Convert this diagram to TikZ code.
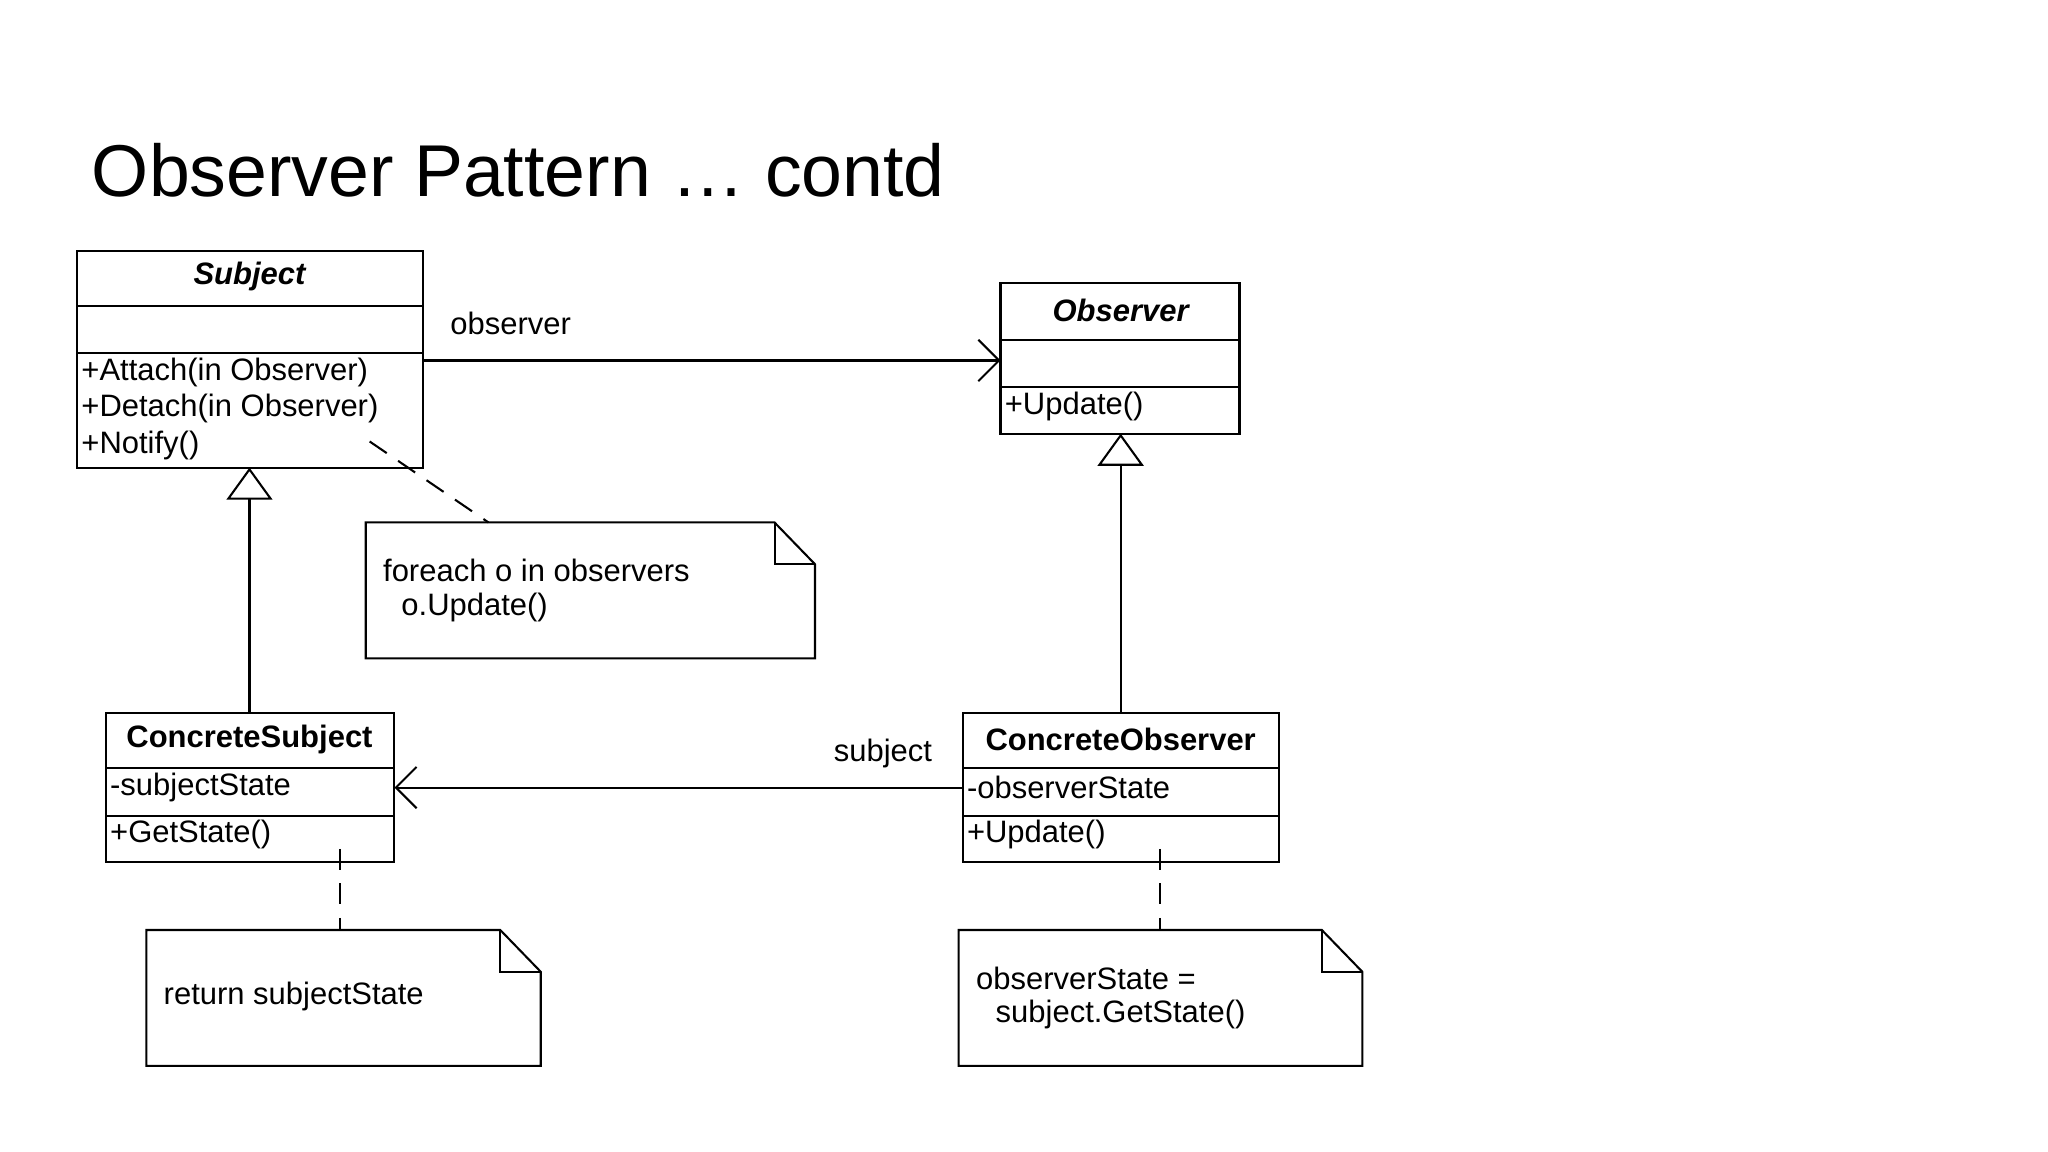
\documentclass[tikz,border=0pt]{standalone}
\usepackage{fontspec}
\setmainfont{Liberation Sans}
\usetikzlibrary{arrows.meta}
\begin{document}
\begin{tikzpicture}[x=0.02cm,y=-0.02cm,
  box/.style={draw,line width=0.9pt},
  txt/.style={font=\fontsize{13.5}{16}\selectfont,inner sep=0pt,anchor=west},
  assoc/.style={draw,line width=0.9pt,-{Straight Barb[length=9pt,width=18pt]}},
  gen/.style={draw,line width=0.9pt,-{Triangle[open,length=14pt,width=20pt]}},
  dashedln/.style={draw,line width=0.9pt,dash pattern=on 9pt off 6pt}]
\useasboundingbox (0,0) rectangle (1568,882);
\node[anchor=west,inner sep=0pt,font=\fontsize{32}{38}\selectfont] (title) at (70,130) {Observer Pattern … contd};
% Subject
\draw[box] (59,192) rectangle (324,358);
\draw[box] (59,234) -- (324,234) (59,270) -- (324,270);
\node[font=\fontsize{13.5}{16}\selectfont\bfseries\itshape] (subj) at (191,212) {Subject};
\node[txt] (a1) at (62,285) {+Attach(in Observer)};
\node[txt] (a2) at (62,313) {+Detach(in Observer)};
\node[txt] (a3) at (62,341) {+Notify()};
% Observer
\draw[box] (766,217) rectangle (949,332);
\draw[box] (766,260) -- (949,260) (766,296) -- (949,296);
\node[font=\fontsize{13.5}{16}\selectfont\bfseries\itshape] (obs) at (858,238) {Observer};
\node[txt] (o1) at (769,311) {+Update()};
% ConcreteSubject
\draw[box] (81,546) rectangle (302,660);
\draw[box] (81,588) -- (302,588) (81,625) -- (302,625);
\node[font=\fontsize{13.5}{16}\selectfont\bfseries] (cs) at (191,566) {ConcreteSubject};
\node[txt] (cs1) at (84,603) {-subjectState};
\node[txt] (cs2) at (84,639) {+GetState()};
% ConcreteObserver
\draw[box] (737,546) rectangle (979,660);
\draw[box] (737,588) -- (979,588) (737,625) -- (979,625);
\node[font=\fontsize{13.5}{16}\selectfont\bfseries] (co) at (858,566) {ConcreteObserver};
\node[txt] (co1) at (740,603) {-observerState};
\node[txt] (co2) at (740,639) {+Update()};
% notes
\draw[box] (280,400) -- (593,400) -- (624,432) -- (624,504) -- (280,504) -- cycle;
\draw[box] (593,400) -- (593,432) -- (624,432);
\node[txt] (n1) at (293,437) {foreach o in observers};
\node[txt] (n1b) at (307,465) {o.Update()};
\draw[box] (112,712) -- (383,712) -- (414,744) -- (414,816) -- (112,816) -- cycle;
\draw[box] (383,712) -- (383,744) -- (414,744);
\node[txt] (n2) at (125,763) {return subjectState};
\draw[box] (734,712) -- (1012,712) -- (1043,744) -- (1043,816) -- (734,816) -- cycle;
\draw[box] (1012,712) -- (1012,744) -- (1043,744);
\node[txt] (n3) at (747,749) {observerState =};
\node[txt] (n3b) at (762,777) {subject.GetState()};
% coordinates
\coordinate (s1) at (324,276); \coordinate (s2) at (766,276);
\coordinate (g1) at (191,546); \coordinate (g2) at (191,358);
\coordinate (h1) at (858,546); \coordinate (h2) at (858,332);
\coordinate (c1) at (737,603); \coordinate (c2) at (302,603);
\coordinate (d1) at (283,338); \coordinate (d2) at (374,400);
\coordinate (e1) at (260,650); \coordinate (e2) at (260,712);
\coordinate (f1) at (888,650); \coordinate (f2) at (888,712);
\draw[assoc] (s1) -- (s2);
\node[font=\fontsize{13.5}{16}\selectfont] (lo) at (391,248) {observer};
\draw[gen] (g1) -- (g2);
\draw[gen] (h1) -- (h2);
\draw[assoc] (c1) -- (c2);
\node[font=\fontsize{13.5}{16}\selectfont] (ls) at (676,577) {subject};
\draw[dashedln] (d1) -- (d2);
\draw[dashedln] (e1) -- (e2);
\draw[dashedln] (f1) -- (f2);
\end{tikzpicture}
\end{document}
